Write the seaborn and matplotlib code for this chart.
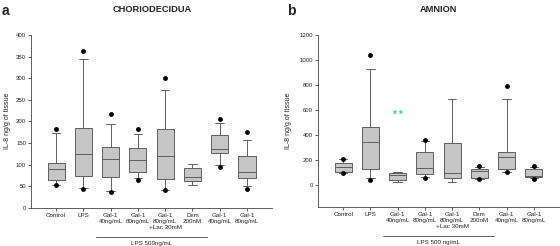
import numpy as np
import pandas as pd
import seaborn as sns
import matplotlib.pyplot as plt

# group keys (unique) and the printed tick labels
groups = ["Control", "LPS", "Gal40_LPS", "Gal80_LPS", "Gal80Lac_LPS", "Dxm_LPS", "Gal40", "Gal80"]
tick_labels = ["Control", "LPS", "Gal-1\n40ng/mL", "Gal-1\n80ng/mL", "Gal-1\n80ng/mL\n+Lac 30mM",
               "Dxm\n200nM", "Gal-1\n40ng/mL", "Gal-1\n80ng/mL"]

# a: choriodecidua (IL-8 ng/g of tissue)
cho_wlo = [54, 46, 40, 69, 42, 53, 100, 51]
cho_q1 = [65, 74, 71, 84, 68, 62, 127, 69]
cho_med = [91, 124, 113, 111, 120, 71, 136, 83]
cho_q3 = [104, 184, 142, 138, 183, 92, 168, 120]
cho_whi = [174, 345, 195, 170, 272, 101, 196, 158]
cho_dot_hi = [182, 364, 217, 183, 301, None, 205, 176]
cho_dot_lo = [53, 45, 36, 65, 41, None, 94, 45]

# b: amnion
amn_wlo = [95, 50, 18, 63, 18, 47, 105, 50]
amn_q1 = [105, 126, 34, 82, 55, 53, 126, 63]
amn_med = [142, 345, 74, 137, 97, 108, 221, 66]
amn_q3 = [176, 463, 97, 261, 337, 126, 261, 129]
amn_whi = [203, 925, 103, 347, 688, 142, 683, 142]
amn_dot_hi = [208, 1040, None, 360, None, 150, 787, 150]
amn_dot_lo = [92, 37, None, 55, None, 45, 105, 47]

sns.set_style("ticks")
plt.rcParams["font.family"] = ["Liberation Sans", "DejaVu Sans"]

box_fill = "#c6c6c6"
line_col = "#5e5e5e"
text_col = "#222222"


def make_frames(wlo, q1, med, q3, whi, dhi, dlo):
    # five values per group -> seaborn quartiles/whiskers land exactly on them
    rows = []
    for i, g in enumerate(groups):
        for v in (wlo[i], q1[i], med[i], q3[i], whi[i]):
            rows.append({"group": g, "value": v})
    dots = []
    for i, g in enumerate(groups):
        for v in (dhi[i], dlo[i]):
            if v is not None:
                dots.append({"group": g, "value": v})
    return pd.DataFrame(rows), pd.DataFrame(dots)


def draw(ax, box_df, dot_df, ylim, yticks, lps_text):
    sns.boxplot(data=box_df, x="group", y="value", order=groups, whis=(0, 100),
                width=0.63, color=box_fill, saturation=1, linecolor=line_col,
                linewidth=0.7, ax=ax)
    sns.stripplot(data=dot_df, x="group", y="value", order=groups, jitter=False,
                  color="black", size=3.5, ax=ax)
    ax.set_xlim(-0.92, 7.92)
    ax.set_ylim(*ylim)
    ax.set_yticks(yticks)
    ax.set_xticks(range(len(groups)))
    ax.set_xticklabels(tick_labels, fontsize=4.5, linespacing=1.25, color=text_col)
    ax.tick_params(axis="y", labelsize=4.3, labelcolor=text_col)
    ax.tick_params(length=2, width=0.6, pad=1.5, color="#444444")
    ax.set_xlabel("")
    ax.set_ylabel("")
    for s in ["top", "right"]:
        ax.spines[s].set_visible(False)
    for s in ["left", "bottom"]:
        ax.spines[s].set_linewidth(0.6)
        ax.spines[s].set_color("#444444")
    # LPS bracket under the treated groups
    tr = ax.get_xaxis_transform()
    ax.plot([1.47, 5.52], [-0.165, -0.165], transform=tr, color="#444444",
            lw=0.6, clip_on=False)
    ax.text(3.5, -0.205, lps_text, transform=tr, ha="center", va="center",
            fontsize=4.5, color=text_col)


fig = plt.figure(figsize=(5.6, 2.46), dpi=100)
ax_a = fig.add_axes([0.0554, 0.1545, 0.4304, 0.7035])
ax_b = fig.add_axes([0.568, 0.158, 0.43, 0.701])

box_a, dots_a = make_frames(cho_wlo, cho_q1, cho_med, cho_q3, cho_whi, cho_dot_hi, cho_dot_lo)
box_b, dots_b = make_frames(amn_wlo, amn_q1, amn_med, amn_q3, amn_whi, amn_dot_hi, amn_dot_lo)

draw(ax_a, box_a, dots_a, (0, 400), range(0, 401, 50), "LPS 500ng/mL")
draw(ax_b, box_b, dots_b, (-180, 1200), range(0, 1201, 200), "LPS 500 ng/mL")

# significance mark
ax_b.text(2, 560, "* *", color="#3fbdf0", fontsize=7.5, fontweight="bold",
          ha="center", va="center")

fig.text(152 / 560, 1 - 9 / 246, "CHORIODECIDUA", fontsize=6.7, fontweight="bold",
         ha="center", va="center", color=text_col)
fig.text(438 / 560, 1 - 9 / 246, "AMNION", fontsize=6.7, fontweight="bold",
         ha="center", va="center", color=text_col)
fig.text(5 / 560, 1 - 11 / 246, "a", fontsize=10, fontweight="bold", ha="center",
         va="center", color=text_col)
fig.text(291 / 560, 1 - 11 / 246, "b", fontsize=10, fontweight="bold", ha="center",
         va="center", color=text_col)
fig.text(8 / 560, 1 - 121 / 246, "IL-8 ng/g of tissue", rotation=90, fontsize=5,
         ha="center", va="center", color=text_col)
fig.text(288 / 560, 1 - 121 / 246, "IL-8 ng/g of tissue", rotation=90, fontsize=5,
         ha="center", va="center", color=text_col)

fig.savefig("out.png", dpi=100)
